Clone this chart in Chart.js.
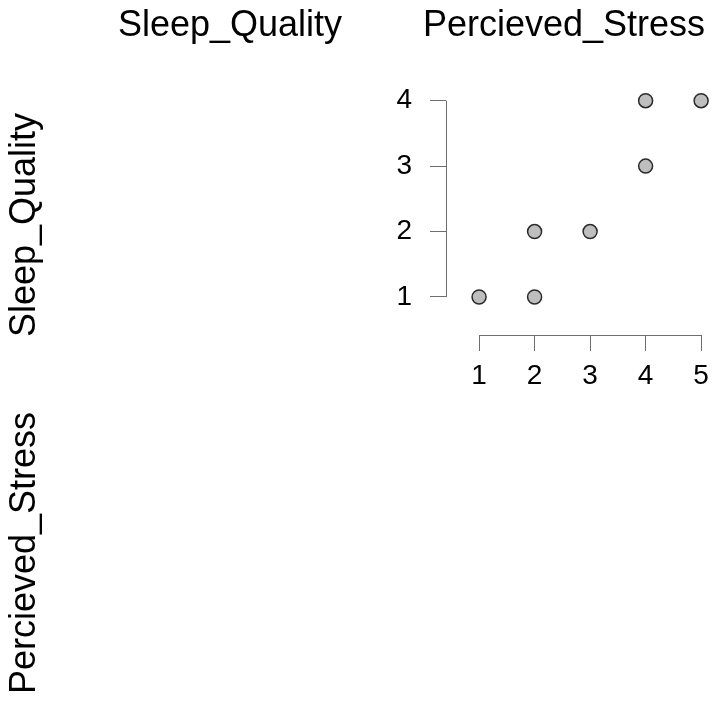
<!DOCTYPE html>
<html>
<head>
<meta charset="utf-8">
<script src="https://cdn.jsdelivr.net/npm/chart.js@4/dist/chart.umd.min.js"></script>
<style>
  body { margin: 0; background: #fff; }
</style>
</head>
<body>
<canvas id="pairs" width="718" height="709"></canvas>
<script>
const variables = ["Sleep_Quality", "Percieved_Stress"];
const stress = [1, 2, 2, 3, 4, 4, 5];
const sleep = [1, 1, 2, 2, 3, 4, 4];
const xTicks = [1, 2, 3, 4, 5];
const yTicks = [1, 2, 3, 4];

const FONT = "'Liberation Sans', Arial, Helvetica, sans-serif";
const AXIS_COLOR = "#6e6e6e";

// R-style axis lines that only run between the first and last tick,
// plus the variable names on the diagonal
const pairsDecor = {
    id: "pairsDecor",
    afterDraw(chart) {
        const { ctx, scales: { x, y } } = chart;
        ctx.save();
        ctx.strokeStyle = AXIS_COLOR;
        ctx.lineWidth = 1;
        const ax = Math.round(chart.chartArea.left) + 0.5;
        const ay = Math.round(chart.chartArea.bottom) + 0.5;
        ctx.beginPath();
        ctx.moveTo(ax, y.getPixelForValue(yTicks[0]));
        ctx.lineTo(ax, y.getPixelForValue(yTicks[yTicks.length - 1]));
        ctx.moveTo(x.getPixelForValue(xTicks[0]), ay);
        ctx.lineTo(x.getPixelForValue(xTicks[xTicks.length - 1]), ay);
        ctx.stroke();

        ctx.fillStyle = "#000";
        ctx.font = "36px " + FONT;
        ctx.textAlign = "center";
        ctx.textBaseline = "alphabetic";
        // column headers
        ctx.fillText(variables[0], 230, 36);
        ctx.fillText(variables[1], 564, 36);
        // row labels
        [225, 553].forEach((cy, i) => {
            ctx.save();
            ctx.translate(35, cy);
            ctx.rotate(-Math.PI / 2);
            ctx.fillText(variables[i], 0, 0);
            ctx.restore();
        });
        ctx.restore();
    }
};

new Chart(document.getElementById("pairs"), {
    type: "scatter",
    data: {
        datasets: [{
            data: stress.map((v, i) => ({ x: v, y: sleep[i] })),
            backgroundColor: "#bebebe",
            borderColor: "#2b2b2b",
            borderWidth: 1.5,
            pointRadius: 7,
            pointHoverRadius: 7
        }]
    },
    plugins: [pairsDecor],
    options: {
        responsive: false,
        animation: false,
        layout: { padding: { left: 0, right: 0.7, top: 74.5, bottom: 0 } },
        plugins: {
            legend: { display: false },
            tooltip: { enabled: false }
        },
        scales: {
            x: {
                type: "linear",
                min: 0.404,
                max: 5.151,
                afterBuildTicks: s => { s.ticks = xTicks.map(v => ({ value: v })); },
                afterFit: s => { s.height = 709 - 335; },
                border: { display: false },
                grid: { drawOnChartArea: false, tickLength: 16, color: AXIS_COLOR, lineWidth: 1 },
                ticks: { color: "#000", font: { size: 28, family: FONT }, padding: 8, maxRotation: 0 }
            },
            y: {
                type: "linear",
                min: 0.419,
                max: 4.4,
                afterBuildTicks: s => { s.ticks = yTicks.map(v => ({ value: v })); },
                afterFit: s => { s.width = 446; },
                border: { display: false },
                grid: { drawOnChartArea: false, tickLength: 16, color: AXIS_COLOR, lineWidth: 1 },
                ticks: { color: "#000", font: { size: 28, family: FONT }, padding: 18 }
            }
        }
    }
});
</script>
</body>
</html>
